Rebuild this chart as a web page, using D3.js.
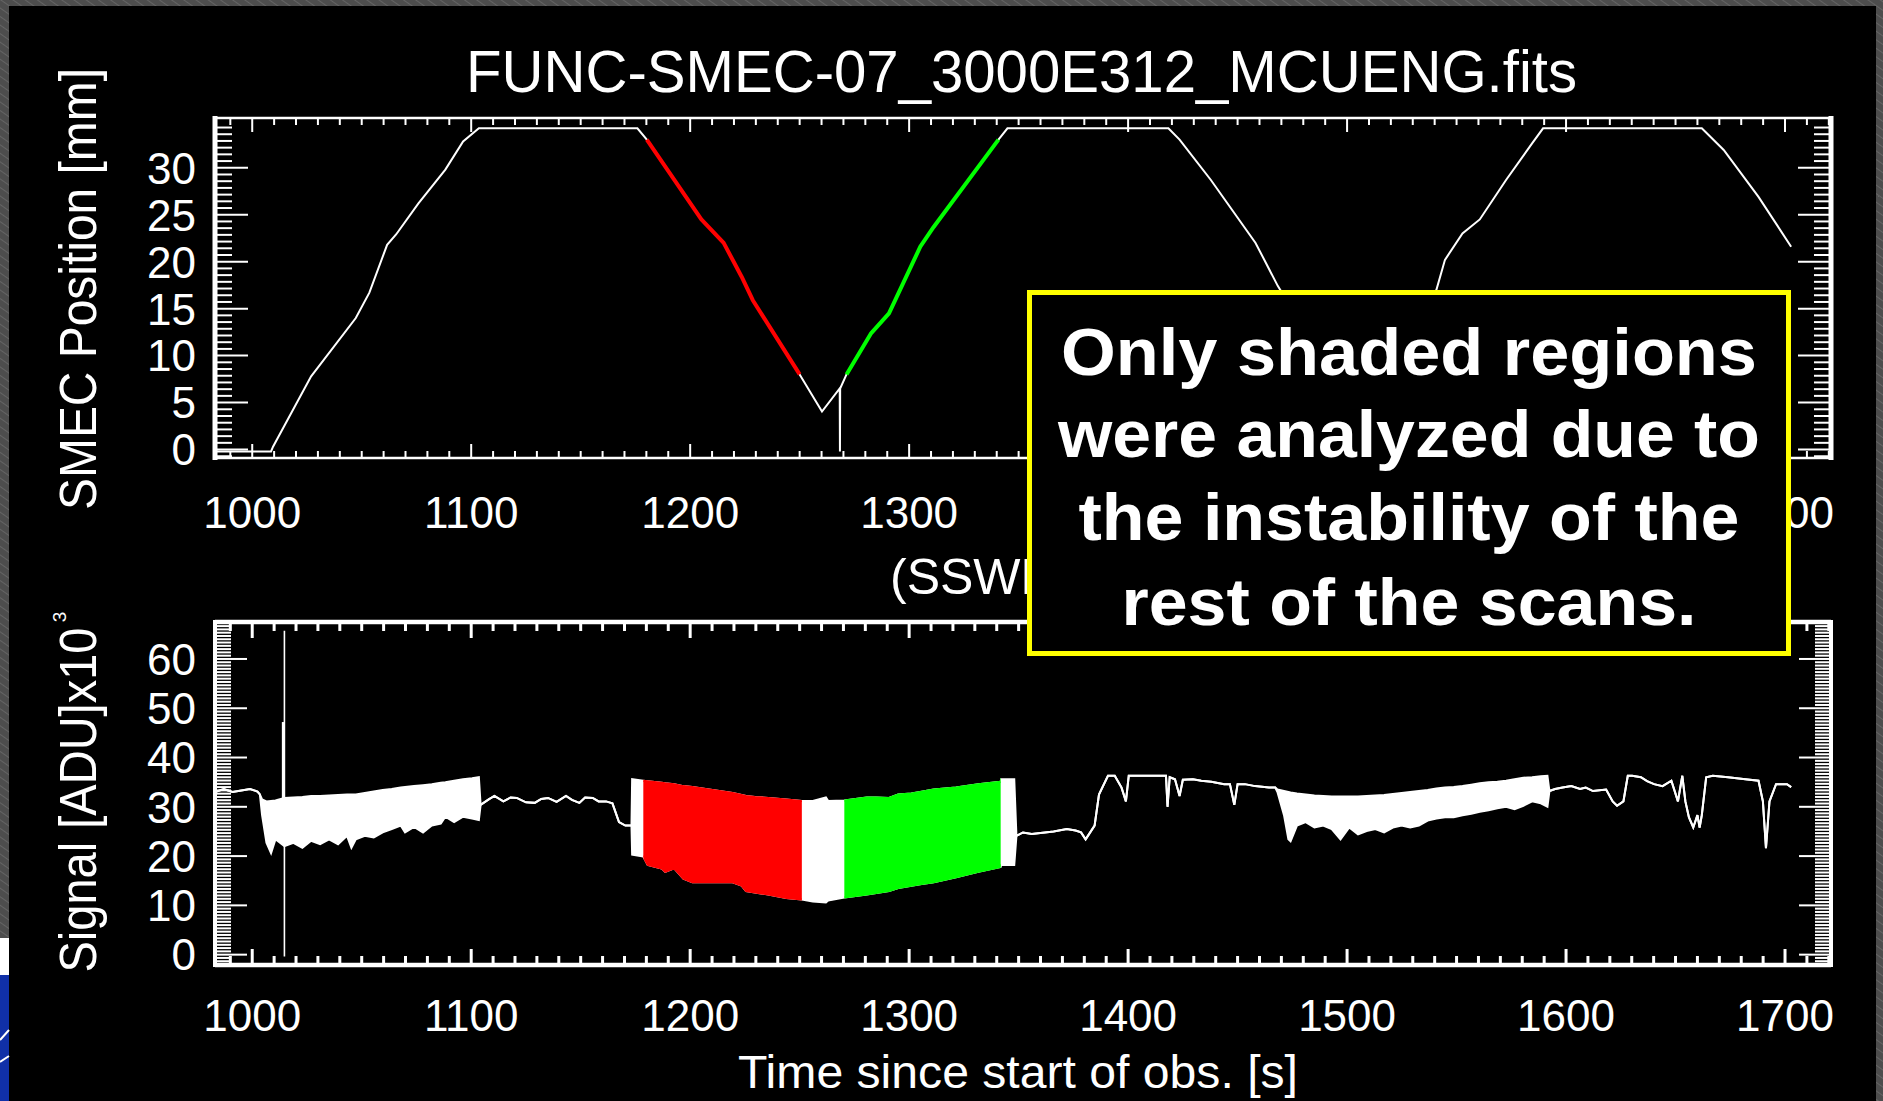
<!DOCTYPE html>
<html>
<head>
<meta charset="utf-8">
<script src="https://cdn.jsdelivr.net/npm/d3@7"></script>
<style>
html, body { margin: 0; padding: 0; background: #000; overflow: hidden; }
svg { display: block; }
text { font-family: "Liberation Sans", Arial, Helvetica, sans-serif; fill: #fff; }
</style>
</head>
<body>
<svg id="gfx" width="1883" height="1101"></svg>
<script>
// ---- data ----
var timeTicks = [1000, 1100, 1200, 1300, 1400, 1500, 1600, 1700];
var timeTickLabels = ["1000", "1100", "1200", "1300", "1400", "1500", "1600", "1700"];
var posTicks = [0, 5, 10, 15, 20, 25, 30];
var posTickLabels = ["0", "5", "10", "15", "20", "25", "30"];
var sigTicks = [0, 10, 20, 30, 40, 50, 60];
var sigTickLabels = ["0", "10", "20", "30", "40", "50", "60"];

// SMEC position trace [s], [mm]
var posTime = [983, 1008.6, 1009.5, 1026.9, 1047.3, 1053.5, 1061.6, 1065.7, 1075.9, 1088.2, 1096.3, 1103.5,
    1175.9, 1180.2, 1205.1, 1215.3, 1223.5, 1228.6, 1250.0, 1260.2, 1268.3, 1268.4, 1268.5, 1271.4,
    1282.7, 1290.8, 1305.1, 1311.2, 1340.8, 1344.9, 1418.4, 1423.5, 1437.8, 1458.2, 1468.4, 1504,
    1540.8, 1544.7, 1552.7, 1560.6, 1572.6, 1584.5, 1589.5, 1662, 1672, 1687.9, 1702.8];
var posValue = [-0.2, -0.2, 0.3, 7.8, 14.0, 16.7, 21.8, 22.9, 26.2, 29.8, 32.8, 34.2,
    34.2, 33.0, 24.5, 22.0, 18.4, 15.9, 8.0, 4.05, 6.5, -0.2, 6.5, 8.0,
    12.4, 14.5, 21.6, 23.7, 33.0, 34.2, 34.2, 33.0, 28.7, 22.0, 17.4, 4.0,
    17.0, 20.2, 23.0, 24.5, 28.7, 32.6, 34.2, 34.2, 31.9, 26.9, 21.6];

// analysed scans (red = first, green = second)
var scanNames = ["red", "green"];
var scanStart = [1178.6, 1270.4];
var scanEnd = [1251.0, 1341.8];
var scanColors = ["#ff0000", "#00ff00"];
var posScanStart = [1180.2, 1271.4];
var posScanEnd = [1250.0, 1340.8];

// detector signal [s], upper / lower envelope [ADU x 10^3]
var sigTime = [983, 987, 991, 995, 999, 1002.4, 1003.5,
    1004.5, 1006.5, 1008.6, 1010.6, 1014.7, 1018.8, 1022.9, 1026.9, 1031.0, 1035.1, 1039.2, 1043.3,
    1045.3, 1047.3, 1051.4, 1055.5, 1059.6, 1063.7, 1067.8, 1069.8, 1073.9, 1078.0, 1082.0, 1086.1,
    1088.2, 1092.2, 1096.3, 1100.4, 1103.5,
    1104.3, 1108, 1110.6, 1114.7, 1118, 1120.8, 1125, 1129, 1132, 1135.1, 1139, 1143.3, 1146, 1149.4,
    1152, 1155.5, 1158.2, 1161.6, 1164.5, 1167.5, 1170.4, 1173.2,
    1173.5, 1178.6, 1180.6, 1187.0, 1188.6, 1192.7, 1196.9, 1201.0, 1207.1, 1213.3, 1219.4, 1223.5,
    1225.5, 1229.6, 1235.7, 1243.9, 1251.0, 1256, 1262, 1263, 1270.4, 1280.6, 1285.0, 1290.8, 1295.0,
    1301.0, 1305.0, 1311.2, 1321.4, 1331.6, 1341.8, 1342.0, 1348.0,
    1349, 1352, 1356, 1362, 1366, 1372, 1376, 1378.5, 1380.6, 1384.7, 1386.7, 1390.8, 1393.9, 1397,
    1399, 1400.3, 1410, 1417.3, 1418, 1419, 1421.4, 1423.5, 1425, 1429.6, 1433.4, 1438, 1443.9,
    1446.5, 1448.5, 1450, 1453.3, 1458, 1464.3, 1467.2,
    1468.2, 1471.2, 1473.2, 1474.2, 1477.1, 1481.1, 1485.1, 1489.1, 1493.0, 1497.0, 1501.0, 1505.0,
    1508.9, 1512.9, 1516.9, 1520.9, 1524.9, 1528.8, 1532.8, 1536.8, 1540.8, 1544.7, 1548.7, 1552.7,
    1556.7, 1560.6, 1564.6, 1568.6, 1572.6, 1576.5, 1580.5, 1584.5, 1588.5, 1591.5,
    1592.4, 1595, 1598.4, 1602.4, 1606.4, 1609, 1612.3, 1618.3, 1621.3, 1623.3, 1626.2, 1628.2,
    1630.2, 1634.2, 1637, 1640.2, 1644.1, 1648.1, 1651.1, 1653.1, 1654.5, 1656.1, 1658.1, 1660.0,
    1661, 1662, 1664.0, 1667.0, 1674.0, 1681.9, 1687.9, 1689.9, 1691.3, 1692.9, 1695.9, 1700.9, 1702.8];
var sigHigh = [33.0, 33.6, 33.0, 33.3, 33.6, 33.1, 32.5,
    31.5, 31.1, 31.2, 31.3, 31.8, 31.9, 32.0, 32.2, 32.2, 32.3, 32.4, 32.5,
    32.5, 32.5, 32.8, 33.1, 33.4, 33.6, 33.9, 34.0, 34.2, 34.4, 34.6, 34.9,
    35.0, 35.3, 35.6, 35.8, 36.0,
    30.4, 31.5, 32.2, 31.1, 31.9, 31.8, 30.9, 30.8, 31.6, 31.8, 31.0, 32.2, 31.4, 30.8,
    31.9, 31.8, 31.1, 31.1, 30.7, 26.9, 26.2, 26.2,
    35.6, 35.3, 35.2, 34.9, 34.8, 34.6, 34.2, 34.0, 33.6, 33.2, 32.8, 32.4,
    32.2, 32.0, 31.8, 31.5, 31.2, 31.2, 31.9, 31.2, 31.3, 31.9, 31.9, 31.8, 32.5,
    32.7, 33.0, 33.5, 33.9, 34.6, 35.1, 35.6, 35.6,
    24.1, 24.8, 24.5, 24.8, 25.0, 25.5, 25.2, 24.8, 23.4, 26.2, 32.5, 36.3, 36.3, 33.9,
    31.1, 36.3, 36.3, 36.3, 30.0, 36.0, 35.6, 32.2, 35.5, 35.6, 35.3, 35.1, 34.6,
    34.6, 30.4, 34.6, 34.6, 34.2, 33.9, 33.9,
    33.5, 33.2, 33.0, 32.9, 32.7, 32.5, 32.3, 32.2, 32.1, 32.1, 32.1, 32.1,
    32.2, 32.3, 32.4, 32.6, 32.8, 33.0, 33.2, 33.4, 33.7, 33.9, 34.0, 34.2,
    34.5, 34.8, 35.0, 35.1, 35.3, 35.6, 35.9, 36.0, 36.2, 36.3,
    33.2, 33.6, 33.9, 34.2, 33.6, 33.9, 33.2, 33.5, 31.1, 30.2, 31.1, 36.3,
    36.3, 36.0, 35.2, 34.6, 34.2, 35.3, 31.1, 36.3, 31.1, 27.9, 25.8, 28.3,
    25.8, 28.3, 36.0, 36.3, 36.0, 35.6, 35.3, 31.1, 21.6, 31.1, 34.6, 34.6, 34.0];
var sigLow = [33.0, 33.6, 33.0, 33.3, 33.6, 33.1, 32.5,
    28.3, 22.7, 20.6, 23.4, 22.0, 22.7, 21.7, 23.1, 22.4, 23.4, 22.4, 24.1,
    21.7, 23.4, 24.1, 23.8, 24.8, 25.5, 26.2, 24.8, 25.9, 24.8, 26.2, 26.6,
    28.0, 26.9, 28.0, 27.6, 27.3,
    30.4, 31.5, 32.2, 31.1, 31.9, 31.8, 30.9, 30.8, 31.6, 31.8, 31.0, 32.2, 31.4, 30.8,
    31.9, 31.8, 31.1, 31.1, 30.7, 26.9, 26.2, 26.2,
    20.3, 19.9, 18.2, 17.5, 16.8, 17.5, 15.4, 14.7, 14.7, 14.7, 14.7, 14.0,
    12.9, 12.6, 12.2, 11.5, 11.2, 10.8, 10.6, 11.0, 11.6, 12.2, 12.5, 12.9, 13.5,
    14.0, 14.3, 14.7, 15.7, 16.8, 17.8, 18.2, 18.2,
    24.1, 24.8, 24.5, 24.8, 25.0, 25.5, 25.2, 24.8, 23.4, 26.2, 32.5, 36.3, 36.3, 33.9,
    31.1, 36.3, 36.3, 36.3, 30.0, 36.0, 35.6, 32.2, 35.5, 35.6, 35.3, 35.1, 34.6,
    34.6, 30.4, 34.6, 34.6, 34.2, 33.9, 33.9,
    33.0, 28.3, 23.4, 23.0, 26.2, 26.9, 25.8, 26.2, 25.5, 23.4, 25.8, 24.4,
    25.1, 25.5, 24.8, 25.8, 26.2, 25.8, 26.2, 27.2, 27.6, 27.9, 27.9, 28.3,
    28.6, 29.0, 29.3, 29.7, 30.0, 29.5, 30.2, 31.1, 30.7, 30.0,
    33.2, 33.6, 33.9, 34.2, 33.6, 33.9, 33.2, 33.5, 31.1, 30.2, 31.1, 36.3,
    36.3, 36.0, 35.2, 34.6, 34.2, 35.3, 31.1, 36.3, 31.1, 27.9, 25.8, 28.3,
    25.8, 28.3, 36.0, 36.3, 36.0, 35.6, 35.3, 31.1, 21.6, 31.1, 34.6, 34.6, 34.0];

// glitch spikes in the signal
var spikeTime = [1014.1, 1014.7];
var spikeHigh = [47.2, 65.7];
var spikeLow = [29.0, -0.4];

var noteLines = ["Only shaded regions", "were analyzed due to", "the instability of the", "rest of the scans."];

// ---- drawing ----
var gfx = {};

function initialise() {
    gfx.svg = d3.select("#gfx");
    gfx.x = d3.scaleLinear().domain([983, 1721]).range([215, 1831]);
    gfx.yPos = d3.scaleLinear().domain([-0.9, 35.3]).range([458, 118]);
    gfx.ySig = d3.scaleLinear().domain([-2.1, 67.5]).range([965, 622]);

    drawBackground();
    drawPosition();
    drawSignal();
    drawFrame(gfx.yPos, posTicks, posTickLabels, 7,
        { xMajor: 14, xMinor: 7, yMajor: 33, yMinor: 17, hWidth: 2.5, vWidth: 5, xTickWidth: 2, labelBase: 528 });
    drawFrame(gfx.ySig, sigTicks, sigTickLabels, 15,
        { xMajor: 16, xMinor: 9, yMajor: 32, yMinor: 16, hWidth: 4.5, vWidth: 4, xTickWidth: 3, labelBase: 1031 });
    drawTitles();
    drawNote();
}

function drawBackground() {
    var svg = gfx.svg;
    var defs = svg.append("defs");
    var pat = defs.append("pattern").attr("id", "hatch")
        .attr("width", 7).attr("height", 7)
        .attr("patternUnits", "userSpaceOnUse")
        .attr("patternTransform", "rotate(-55)");
    pat.append("rect").attr("width", 7).attr("height", 7).attr("fill", "#4d4d4d");
    pat.append("line").attr("x1", 0).attr("y1", 0).attr("x2", 0).attr("y2", 7)
        .attr("stroke", "#7a7a7a").attr("stroke-width", 1);

    svg.append("rect").attr("width", 1883).attr("height", 1101).attr("fill", "url(#hatch)");
    svg.append("rect").attr("x", 9).attr("y", 6).attr("width", 1867).attr("height", 1095).attr("fill", "#000");

    // corner of the slide logo
    svg.append("rect").attr("x", 0).attr("y", 938).attr("width", 9).attr("height", 163).attr("fill", "#fff");
    svg.append("rect").attr("x", 0).attr("y", 975).attr("width", 9).attr("height", 126).attr("fill", "#1030a8");
    svg.append("path").attr("d", "M0,1040 L9,1030 M0,1062 L9,1056")
        .attr("stroke", "#fff").attr("stroke-width", 2);

    defs.append("clipPath").attr("id", "clipTop").append("rect")
        .attr("x", 215).attr("y", 118).attr("width", 1616).attr("height", 340);
    defs.append("clipPath").attr("id", "clipBot").append("rect")
        .attr("x", 215).attr("y", 622).attr("width", 1616).attr("height", 343);
    scanNames.forEach(function(n, i) {
        defs.append("clipPath").attr("id", "scan-" + n).append("rect")
            .attr("x", gfx.x(scanStart[i])).attr("y", 600)
            .attr("width", gfx.x(scanEnd[i]) - gfx.x(scanStart[i])).attr("height", 400);
    });
}

function drawPosition() {
    var x = gfx.x, y = gfx.yPos;
    var pts = posTime.map((t, i) => ({ t: t, v: posValue[i] }));
    var line = d3.line().x(d => x(d.t)).y(d => y(d.v));
    var g = gfx.svg.append("g").attr("class", "position").attr("clip-path", "url(#clipTop)");

    g.append("path").datum(pts).attr("d", line)
        .attr("fill", "none").attr("stroke", "#fff").attr("stroke-width", 2);

    scanNames.forEach(function(n, i) {
        var part = pts.filter(d => d.t >= posScanStart[i] && d.t <= posScanEnd[i]);
        g.append("path").datum(part).attr("d", line)
            .attr("fill", "none").attr("stroke", scanColors[i]).attr("stroke-width", 4)
            .attr("stroke-linejoin", "round");
    });
}

function drawSignal() {
    var x = gfx.x, y = gfx.ySig;
    var pts = sigTime.map((t, i) => ({ t: t, hi: sigHigh[i], lo: sigLow[i] }));
    var area = d3.area().x(d => x(d.t)).y0(d => y(d.lo)).y1(d => y(d.hi));
    var hiLine = d3.line().x(d => x(d.t)).y(d => y(d.hi));
    var loLine = d3.line().x(d => x(d.t)).y(d => y(d.lo));
    var g = gfx.svg.append("g").attr("class", "signal").attr("clip-path", "url(#clipBot)");

    function band(parent, colour) {
        parent.append("path").datum(pts).attr("d", area).attr("fill", colour);
        parent.append("path").datum(pts).attr("d", hiLine)
            .attr("fill", "none").attr("stroke", colour).attr("stroke-width", 2);
        parent.append("path").datum(pts).attr("d", loLine)
            .attr("fill", "none").attr("stroke", colour).attr("stroke-width", 2);
    }

    band(g, "#fff");
    scanNames.forEach(function(n, i) {
        band(g.append("g").attr("clip-path", "url(#scan-" + n + ")"), scanColors[i]);
    });

    g.selectAll("line.spike")
        .data(spikeTime.map((t, i) => ({ t: t, hi: spikeHigh[i], lo: spikeLow[i] })))
        .enter().append("line").attr("class", "spike")
        .attr("x1", d => x(d.t)).attr("x2", d => x(d.t))
        .attr("y1", d => y(d.hi)).attr("y2", d => y(d.lo))
        .attr("stroke", "#fff").attr("stroke-width", (d, i) => i === 0 ? 2.5 : 1.6);
}

function drawFrame(y, ticks, labels, minorPerMajor, st) {
    var x = gfx.x;
    var x0 = x.range()[0], x1 = x.range()[1];
    var yb = y.range()[0], yt = y.range()[1];
    var g = gfx.svg.append("g").attr("class", "frame").attr("stroke", "#fff");

    // x ticks on top and bottom axes, pointing inward
    var xMinor = d3.range(990, 1721, 10).filter(v => v % 100 !== 0);
    var xt = xMinor.map(v => ({ v: v, len: st.xMinor }))
        .concat(timeTicks.map(v => ({ v: v, len: st.xMajor })));
    g.selectAll("line.xb").data(xt).enter().append("line").attr("class", "xb")
        .attr("x1", d => x(d.v)).attr("x2", d => x(d.v))
        .attr("y1", yb).attr("y2", d => yb - d.len).attr("stroke-width", st.xTickWidth);
    g.selectAll("line.xt").data(xt).enter().append("line").attr("class", "xt")
        .attr("x1", d => x(d.v)).attr("x2", d => x(d.v))
        .attr("y1", yt).attr("y2", d => yt + d.len).attr("stroke-width", st.xTickWidth);

    // y ticks on left and right axes
    var step = (ticks[1] - ticks[0]) / minorPerMajor;
    var dom = y.domain();
    var yt2 = [];
    for (var k = Math.ceil(dom[0] / step); k <= Math.floor(dom[1] / step); k++) {
        if (k % minorPerMajor !== 0) yt2.push({ v: k * step, len: st.yMinor });
    }
    ticks.forEach(v => yt2.push({ v: v, len: st.yMajor }));
    g.selectAll("line.yl").data(yt2).enter().append("line").attr("class", "yl")
        .attr("x1", x0).attr("x2", d => x0 + d.len)
        .attr("y1", d => y(d.v)).attr("y2", d => y(d.v)).attr("stroke-width", 2);
    g.selectAll("line.yr").data(yt2).enter().append("line").attr("class", "yr")
        .attr("x1", x1).attr("x2", d => x1 - d.len)
        .attr("y1", d => y(d.v)).attr("y2", d => y(d.v)).attr("stroke-width", 2);

    // box
    g.append("line").attr("x1", x0).attr("x2", x1).attr("y1", yt).attr("y2", yt).attr("stroke-width", st.hWidth);
    g.append("line").attr("x1", x0).attr("x2", x1).attr("y1", yb).attr("y2", yb).attr("stroke-width", st.hWidth);
    g.append("line").attr("x1", x0).attr("x2", x0).attr("y1", yt - 2).attr("y2", yb + 2).attr("stroke-width", st.vWidth);
    g.append("line").attr("x1", x1).attr("x2", x1).attr("y1", yt - 2).attr("y2", yb + 2).attr("stroke-width", st.vWidth);

    // labels
    var lab = gfx.svg.append("g").attr("class", "labels").style("font-size", "44px");
    lab.selectAll("text.xl").data(timeTicks).enter().append("text").attr("class", "xl")
        .attr("x", d => x(d)).attr("y", st.labelBase)
        .attr("text-anchor", "middle").text((d, i) => timeTickLabels[i]);
    lab.selectAll("text.yl").data(ticks).enter().append("text").attr("class", "yl")
        .attr("x", 196).attr("y", d => y(d)).attr("dy", "0.36em")
        .attr("text-anchor", "end").text((d, i) => labels[i]);
}

function drawTitles() {
    var svg = gfx.svg;
    svg.append("text").attr("x", 1021.5).attr("y", 92).attr("text-anchor", "middle")
        .style("font-size", "60px").attr("textLength", 1111).attr("lengthAdjust", "spacingAndGlyphs")
        .text("FUNC-SMEC-07_3000E312_MCUENG.fits");

    svg.append("text").attr("transform", "translate(96,289) rotate(-90)").attr("text-anchor", "middle")
        .style("font-size", "52px").attr("textLength", 442).attr("lengthAdjust", "spacingAndGlyphs")
        .text("SMEC Position [mm]");

    svg.append("text").attr("transform", "translate(96,800) rotate(-90)").attr("text-anchor", "middle")
        .style("font-size", "52px").attr("textLength", 345).attr("lengthAdjust", "spacingAndGlyphs")
        .text("Signal [ADU]x10");
    svg.append("text").attr("transform", "translate(66,617) rotate(-90)").attr("text-anchor", "middle")
        .style("font-size", "19px").text("3");

    svg.append("text").attr("x", 890).attr("y", 594)
        .style("font-size", "50px").text("(SSWD4)");

    svg.append("text").attr("x", 1018).attr("y", 1088).attr("text-anchor", "middle")
        .style("font-size", "46px").attr("textLength", 560).attr("lengthAdjust", "spacingAndGlyphs")
        .text("Time since start of obs. [s]");
}

function drawNote() {
    var g = gfx.svg.append("g").attr("class", "note");
    g.append("rect").attr("x", 1029.5).attr("y", 292.5).attr("width", 759).attr("height", 361)
        .attr("fill", "#000").attr("stroke", "#ffff00").attr("stroke-width", 5);
    var base = [375, 457, 540, 625];
    var widths = [696, 702, 661, 575];
    g.selectAll("text").data(noteLines).enter().append("text")
        .attr("x", 1409).attr("y", (d, i) => base[i]).attr("text-anchor", "middle")
        .style("font-size", "66px").style("font-weight", "bold")
        .attr("textLength", (d, i) => widths[i]).attr("lengthAdjust", "spacingAndGlyphs")
        .text(d => d);
}

initialise();
</script>
</body>
</html>
